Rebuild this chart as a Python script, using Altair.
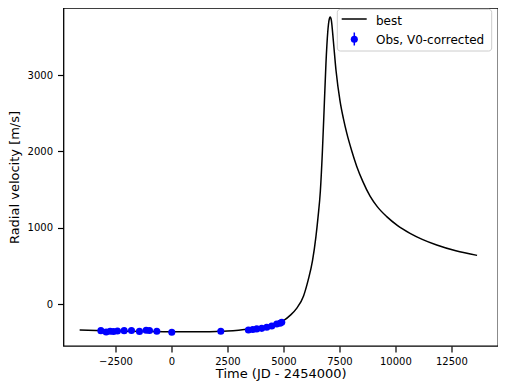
import altair as alt
import pandas as pd

# Best-fit curve
curve_t = [-4100, -3000, -2000, -1000, 0, 1000, 2000, 2500, 3000, 3500, 4000, 4500,
           5000, 5300, 5600, 5900, 6100, 6300, 6450, 6550, 6650, 6740, 6830, 6900,
           6980, 7050, 7090, 7140, 7230, 7350, 7530, 7680, 7830, 8050, 8276, 8550,
           8870, 9200, 9614, 10100, 10656, 11200, 11847, 12700, 13650]
curve_v = [-338, -345, -352, -357, -360, -360, -355, -350, -340, -325, -305, -275,
           -215, -145, -50, 110, 310, 570, 880, 1150, 1480, 1990, 2640, 3150,
           3560, 3735, 3760, 3720, 3450, 3060, 2660, 2430, 2240, 2010, 1805, 1605,
           1415, 1275, 1147, 1030, 929, 850, 776, 700, 640]

# Observations (V0-corrected)
obs_t = [-3152, -2915, -2737, -2588, -2410, -2112, -1785, -1428, -1130, -981, -653,
         15, 2204, 3437, 3632, 3810, 4033, 4256, 4479, 4702, 4851, 4926]
obs_v = [-345, -362, -352, -357, -350, -345, -342, -355, -340, -342, -352,
         -367, -354, -336, -330, -322, -315, -300, -284, -258, -248, -236]
obs_err = [12] * len(obs_t)

x_ticks = [-2500, 0, 2500, 5000, 7500, 10000, 12500]
y_ticks = [0, 1000, 2000, 3000]

curve_df = pd.DataFrame({"t": curve_t, "v": curve_v})
obs_df = pd.DataFrame({"t": obs_t, "v": obs_v, "e": obs_err})
obs_df["lo"] = obs_df["v"] - obs_df["e"]
obs_df["hi"] = obs_df["v"] + obs_df["e"]

XDOM = [-4821, 14584]
YDOM = [-546, 3878]

xs = alt.Scale(domain=XDOM, nice=False, zero=False)
ys = alt.Scale(domain=YDOM, nice=False, zero=False)

xaxis = alt.Axis(values=x_ticks, format="d", title="Time (JD - 2454000)",
                 labelPadding=4, titlePadding=1)
yaxis = alt.Axis(values=y_ticks, format="d", title="Radial velocity [m/s]",
                 labelPadding=5, titlePadding=6)

line = alt.Chart(curve_df).mark_line(color="black", strokeWidth=1.5, clip=True,
                                     interpolate="monotone").encode(
    x=alt.X("t:Q", scale=xs, axis=xaxis),
    y=alt.Y("v:Q", scale=ys, axis=yaxis),
    order="t:Q",
)

err = alt.Chart(obs_df).mark_rule(color="blue", strokeWidth=1.5).encode(
    x=alt.X("t:Q", scale=xs),
    y=alt.Y("lo:Q", scale=ys),
    y2="hi:Q",
)

pts = alt.Chart(obs_df).mark_circle(color="blue", opacity=1, size=50).encode(
    x=alt.X("t:Q", scale=xs),
    y=alt.Y("v:Q", scale=ys),
)

one = pd.DataFrame({"a": [0]})
leg_box = alt.Chart(one).mark_rect(
    fill="white", fillOpacity=0.8, stroke="#cccccc", strokeWidth=1, cornerRadius=3
).encode(x=alt.value(273.8), x2=alt.value(428.2), y=alt.value(1.3), y2=alt.value(43))
leg_line = alt.Chart(one).mark_rule(color="black", strokeWidth=1.5).encode(
    x=alt.value(278.2), x2=alt.value(303.2), y=alt.value(11)
)
leg_err = alt.Chart(one).mark_rule(color="blue", strokeWidth=1.5).encode(
    x=alt.value(290.8), y=alt.value(24.5), y2=alt.value(37.5)
)
leg_pt = alt.Chart(one).mark_circle(color="blue", opacity=1, size=50).encode(
    x=alt.value(290.8), y=alt.value(31.2)
)
leg_t1 = alt.Chart(one).mark_text(
    text="best", align="left", baseline="middle", fontSize=12, font="DejaVu Sans", color="black"
).encode(x=alt.value(312.5), y=alt.value(12.5))
leg_t2 = alt.Chart(one).mark_text(
    text="Obs, V0-corrected", align="left", baseline="middle", fontSize=12, font="DejaVu Sans", color="black"
).encode(x=alt.value(312.5), y=alt.value(31.5))

chart = alt.layer(line, err, pts, leg_box, leg_line, leg_err, leg_pt, leg_t1, leg_t2).properties(
    width=434.5,
    height=338,
    padding={"left": 55.5, "top": 0, "right": 0, "bottom": 37},
    autosize=alt.AutoSizeParams(type="none"),
).configure_view(
    stroke="black", strokeWidth=1.3
).configure_axis(
    grid=False,
    domain=False,
    ticks=True,
    tickColor="black",
    tickSize=6,
    tickWidth=1.2,
    labelFont="DejaVu Sans",
    labelFontSize=10,
    labelColor="black",
    titleFont="DejaVu Sans",
    titleFontSize=13,
    titleFontWeight="normal",
    titleColor="black",
)

chart.save("out.html", embed_options={"renderer": "svg", "actions": False})
